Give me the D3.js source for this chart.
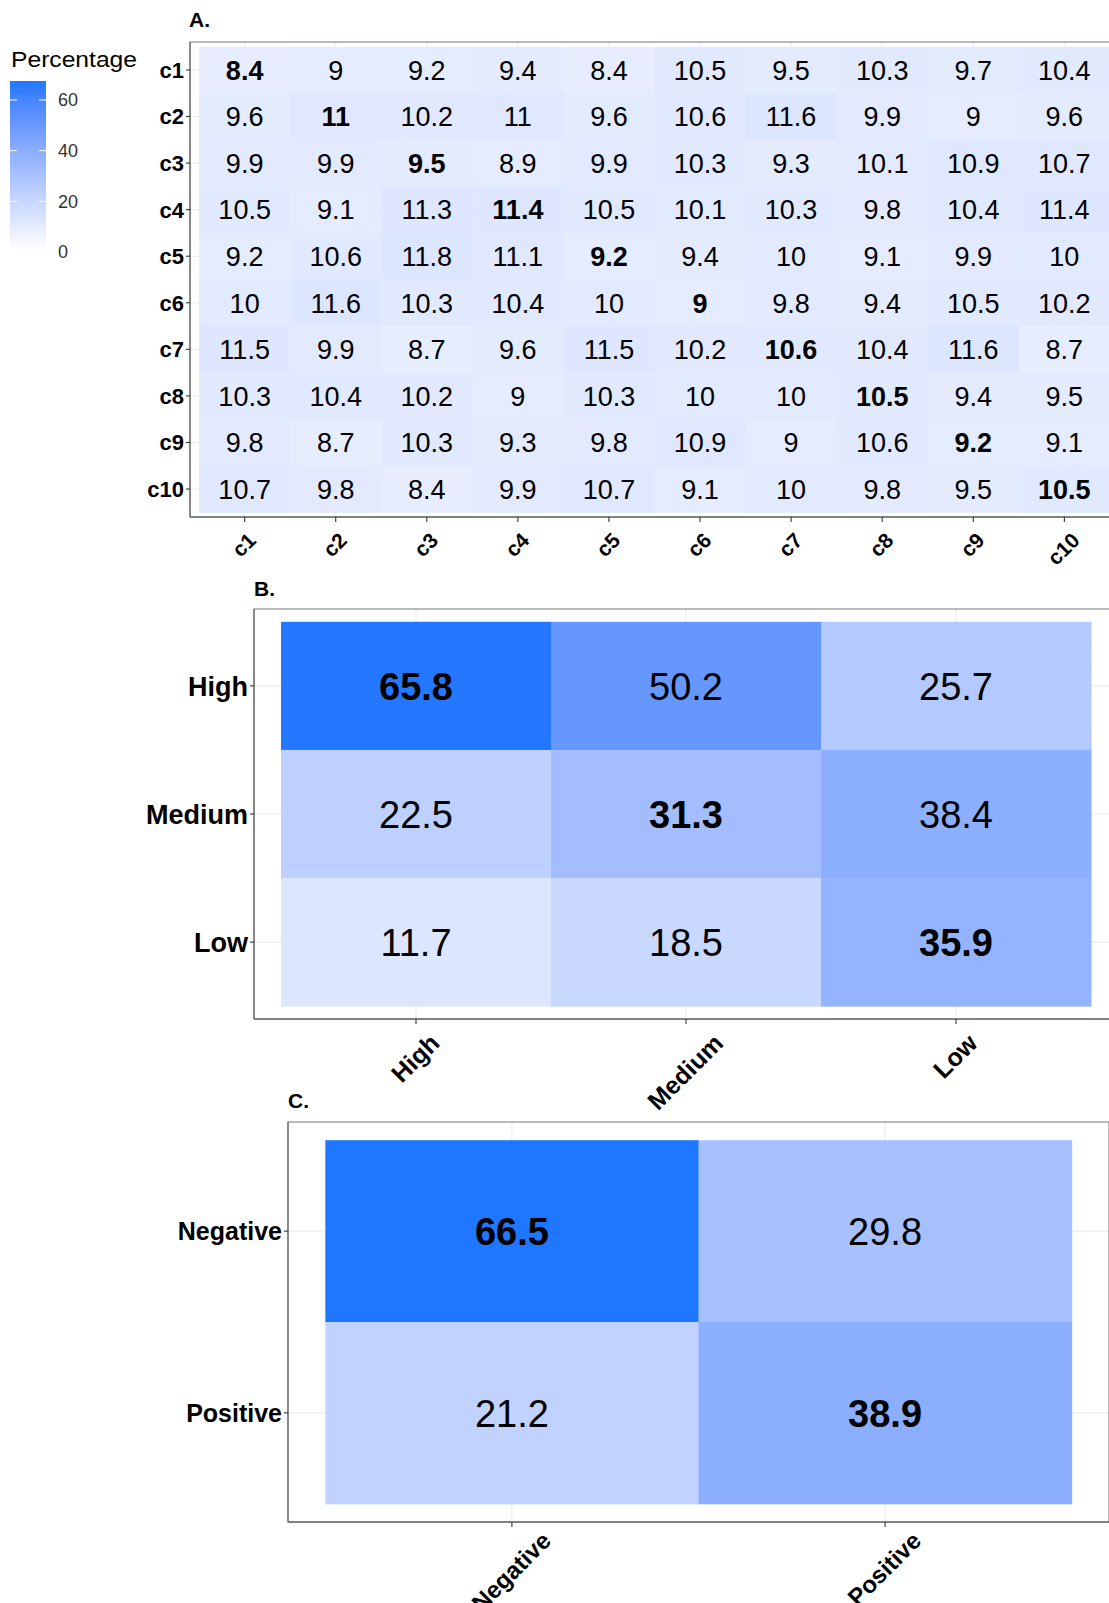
<!DOCTYPE html>
<html>
<head>
<meta charset="utf-8">
<script src="https://cdn.jsdelivr.net/npm/d3@7"></script>
<style>
html,body{margin:0;padding:0;background:#fff;}
svg{display:block;font-family:"Liberation Sans",Arial,Helvetica,sans-serif;}
</style>
</head>
<body>
<svg id="chart" width="1109" height="1603"></svg>
<script>
// ---------- DATA ----------
const clusters = ["c1","c2","c3","c4","c5","c6","c7","c8","c9","c10"];
const clusterValues = [
  [8.4, 9, 9.2, 9.4, 8.4, 10.5, 9.5, 10.3, 9.7, 10.4],
  [9.6, 11, 10.2, 11, 9.6, 10.6, 11.6, 9.9, 9, 9.6],
  [9.9, 9.9, 9.5, 8.9, 9.9, 10.3, 9.3, 10.1, 10.9, 10.7],
  [10.5, 9.1, 11.3, 11.4, 10.5, 10.1, 10.3, 9.8, 10.4, 11.4],
  [9.2, 10.6, 11.8, 11.1, 9.2, 9.4, 10, 9.1, 9.9, 10],
  [10, 11.6, 10.3, 10.4, 10, 9, 9.8, 9.4, 10.5, 10.2],
  [11.5, 9.9, 8.7, 9.6, 11.5, 10.2, 10.6, 10.4, 11.6, 8.7],
  [10.3, 10.4, 10.2, 9, 10.3, 10, 10, 10.5, 9.4, 9.5],
  [9.8, 8.7, 10.3, 9.3, 9.8, 10.9, 9, 10.6, 9.2, 9.1],
  [10.7, 9.8, 8.4, 9.9, 10.7, 9.1, 10, 9.8, 9.5, 10.5]
];
const levels = ["High","Medium","Low"];
const levelValues = [
  [65.8, 50.2, 25.7],
  [22.5, 31.3, 38.4],
  [11.7, 18.5, 35.9]
];
const signs = ["Negative","Positive"];
const signValues = [
  [66.5, 29.8],
  [21.2, 38.9]
];
const legendTicks = [0, 20, 40, 60];
const legendTitle = "Percentage";
const colorDomain = [0, 66.5];

// ---------- SETUP ----------
const svg = d3.select("#chart");
const LOW = "#ffffff", HIGH = "#1f76ff";
const labInterp = d3.interpolateLab(LOW, HIGH);
const rgbInterp = d3.interpolateRgb(LOW, HIGH);
const mixInterp = () => t => d3.interpolateRgb(labInterp(t), rgbInterp(t))(0.5);
const color = d3.scaleLinear().domain(colorDomain).range([0, 1]).clamp(true);
const fillOf = v => mixInterp()(color(v));
const GRID = "#ebebeb";

function drawPanel(cfg){
  const {cats, values, rect, cellFont, yFont, xFont, xTopOffset, title, titlePos} = cfg;
  const g = svg.append("g");
  const x = d3.scaleBand().domain(cats).range([rect.left, rect.left + rect.width]).paddingInner(0).paddingOuter(0.1);
  const y = d3.scaleBand().domain(cats).range([rect.top, rect.top + rect.height]).paddingInner(0).paddingOuter(0.1);
  const bottom = rect.top + rect.height, right = rect.left + rect.width;

  // grid lines
  g.append("g").selectAll("line.v").data(cats).join("line")
    .attr("x1", d => x(d) + x.bandwidth()/2).attr("x2", d => x(d) + x.bandwidth()/2)
    .attr("y1", rect.top).attr("y2", bottom).attr("stroke", GRID).attr("stroke-width", 1.1);
  g.append("g").selectAll("line.h").data(cats).join("line")
    .attr("y1", d => y(d) + y.bandwidth()/2).attr("y2", d => y(d) + y.bandwidth()/2)
    .attr("x1", rect.left).attr("x2", right).attr("stroke", GRID).attr("stroke-width", 1.1);

  // tiles
  const cells = [];
  values.forEach((row, i) => row.forEach((v, j) => cells.push({r: cats[i], c: cats[j], v, diag: i === j})));
  g.append("g").selectAll("rect").data(cells).join("rect")
    .attr("x", d => x(d.c)).attr("y", d => y(d.r))
    .attr("width", x.bandwidth() + 0.5).attr("height", y.bandwidth() + 0.5)
    .attr("fill", d => fillOf(d.v));
  g.append("g").selectAll("text").data(cells).join("text")
    .attr("x", d => x(d.c) + x.bandwidth()/2)
    .attr("y", d => y(d.r) + y.bandwidth()/2)
    .attr("dy", "0.36em")
    .attr("text-anchor", "middle")
    .attr("font-size", cellFont)
    .attr("font-weight", d => d.diag ? "bold" : "normal")
    .attr("fill", "#000")
    .text(d => d3.format("~g")(d.v));

  // border
  g.append("rect").attr("x", rect.left).attr("y", rect.top).attr("width", rect.width).attr("height", rect.height)
    .attr("fill", "none").attr("stroke", "#8c8c8c").attr("stroke-width", 1.2);
  g.append("line").attr("x1", rect.left).attr("x2", rect.left).attr("y1", rect.top).attr("y2", bottom)
    .attr("stroke", "#6e6e6e").attr("stroke-width", 1.3);
  g.append("line").attr("x1", rect.left).attr("x2", right).attr("y1", bottom).attr("y2", bottom)
    .attr("stroke", "#6e6e6e").attr("stroke-width", 1.3);

  // y axis
  const yAxis = d3.axisLeft(y).tickSize(4).tickPadding(2);
  const ya = g.append("g").attr("transform", `translate(${rect.left},0)`).call(yAxis);
  ya.select(".domain").remove();
  ya.selectAll(".tick line").attr("stroke", "#333").attr("stroke-width", 1.1);
  ya.selectAll(".tick text").attr("font-size", yFont).attr("font-weight", "bold").attr("fill", "#000")
    .attr("font-family", "'Liberation Sans',Arial,sans-serif").attr("dy", "0.36em");

  // x axis
  const xAxis = d3.axisBottom(x).tickSize(5).tickFormat("");
  const xa = g.append("g").attr("transform", `translate(0,${bottom})`).call(xAxis);
  xa.select(".domain").remove();
  xa.selectAll(".tick line").attr("stroke", "#333").attr("stroke-width", 1.1);

  const top = bottom + xTopOffset;
  const capH = xFont * 0.72;
  g.append("g").selectAll("text").data(cats).join("text")
    .attr("font-size", xFont).attr("font-weight", "bold").attr("fill", "#000")
    .attr("text-anchor", "middle").attr("dy", "0.36em")
    .text(d => d)
    .each(function(d){
      const w = this.getComputedTextLength();
      const cx = x(d) + x.bandwidth()/2 - 1;
      const cy = top + 0.7071 * (w + capH) / 2;
      d3.select(this).attr("x", cx).attr("y", cy).attr("transform", `rotate(-45,${cx},${cy})`);
    });

  // title
  svg.append("text").attr("x", titlePos[0]).attr("y", titlePos[1])
    .attr("font-size", 21).attr("font-weight", "bold").attr("fill", "#000").text(title);
}

drawPanel({cats: clusters, values: clusterValues,
  rect: {left: 190, top: 42, width: 929, height: 475},
  cellFont: 27, yFont: 22, xFont: 21, xTopOffset: 14, title: "A.", titlePos: [189, 27]});
drawPanel({cats: levels, values: levelValues,
  rect: {left: 254, top: 609, width: 864, height: 410},
  cellFont: 38, yFont: 27, xFont: 25, xTopOffset: 13, title: "B.", titlePos: [254, 596]});
drawPanel({cats: signs, values: signValues,
  rect: {left: 288, top: 1122, width: 821, height: 400},
  cellFont: 38, yFont: 25, xFont: 24, xTopOffset: 8, title: "C.", titlePos: [288, 1108]});

// ---------- LEGEND ----------
const lg = svg.append("g");
const ly = d3.scaleLinear().domain(colorDomain).range([252, 83.5]);
const grad = svg.append("defs").append("linearGradient").attr("id", "lgrad")
  .attr("x1", 0).attr("x2", 0).attr("y1", 1).attr("y2", 0);
d3.range(0, 1.0001, 0.05).forEach(t => {
  grad.append("stop").attr("offset", t).attr("stop-color", fillOf(colorDomain[0] + t * (colorDomain[1] - colorDomain[0])));
});
lg.append("text").attr("x", 11).attr("y", 67).attr("font-size", 22).attr("fill", "#000")
  .attr("textLength", 126).attr("lengthAdjust", "spacingAndGlyphs").text(legendTitle);
lg.append("rect").attr("x", 10).attr("y", ly(colorDomain[1]) - 2.5).attr("width", 36)
  .attr("height", ly(colorDomain[0]) - ly(colorDomain[1]) + 0.5).attr("fill", "url(#lgrad)");
lg.selectAll("line.l").data(legendTicks.filter(d => d > 0)).join("line")
  .attr("x1", 10).attr("x2", 17).attr("y1", d => ly(d)).attr("y2", d => ly(d)).attr("stroke", "#fff").attr("stroke-width", 1);
lg.selectAll("line.r").data(legendTicks.filter(d => d > 0)).join("line")
  .attr("x1", 39).attr("x2", 46).attr("y1", d => ly(d)).attr("y2", d => ly(d)).attr("stroke", "#fff").attr("stroke-width", 1);
lg.selectAll("text.t").data(legendTicks).join("text")
  .attr("x", 58).attr("y", d => ly(d)).attr("dy", "0.36em")
  .attr("font-size", 18).attr("fill", "#333").text(d => d);
</script>
</body>
</html>
